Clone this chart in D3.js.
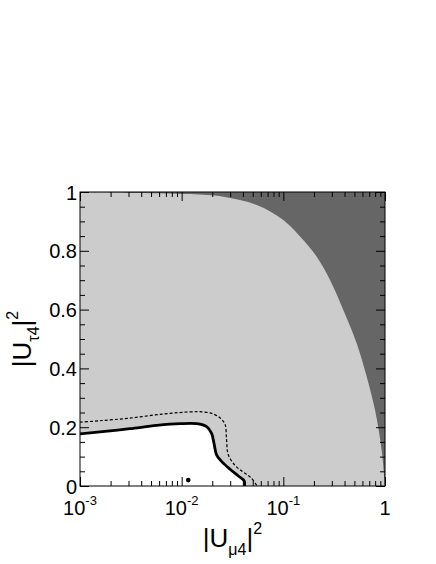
<!DOCTYPE html>
<html><head><meta charset="utf-8">
<script src="https://cdn.jsdelivr.net/npm/d3@7"></script>
<style>body{margin:0;background:#fff}svg{display:block}text{font-family:"Liberation Sans",Arial,Helvetica,sans-serif;fill:#000}</style>
</head><body><svg id="c" width="436" height="564"></svg>
<script>
// ---- data ----
const xMajorTicks = [0.001, 0.01, 0.1, 1];
const xTickBase = ["10", "10", "10", "1"];
const xTickExp = ["-3", "-2", "-1", ""];
const yMajorTicks = [0, 0.2, 0.4, 0.6, 0.8, 1];
const yTickLabels = ["0", "0.2", "0.4", "0.6", "0.8", "1"];

// unitarity boundary (upper edge of light-grey region)
const boundaryX = [0.001, 0.003, 0.0121, 0.0257, 0.0547, 0.1, 0.157, 0.213, 0.288, 0.389, 0.527, 0.661, 0.797, 0.927, 1];
const boundaryY = [0.999, 0.997, 0.993, 0.984, 0.956, 0.905, 0.837, 0.780, 0.701, 0.599, 0.485, 0.372, 0.259, 0.122, 0];

// solid contour
const solidX = [0.001, 0.00157, 0.0031, 0.00568, 0.00963, 0.0141, 0.0176, 0.0197, 0.0208, 0.0221, 0.0248, 0.0299, 0.0361, 0.0413, 0.0414];
const solidY = [0.177, 0.184, 0.195, 0.206, 0.212, 0.212, 0.202, 0.179, 0.145, 0.105, 0.083, 0.057, 0.034, 0.017, 0];

// dashed contour
const dashedX = [0.001, 0.00157, 0.0031, 0.0066, 0.0121, 0.0163, 0.0205, 0.0238, 0.0267, 0.0276, 0.0287, 0.0335, 0.0401, 0.0481, 0.0551];
const dashedY = [0.217, 0.222, 0.231, 0.245, 0.252, 0.252, 0.245, 0.232, 0.21, 0.16, 0.107, 0.07, 0.048, 0.028, 0];

// best-fit point
const pointX = [0.0116];
const pointY = [0.02];

// ---- drawing ----
const L = 80, R = 385, T = 192, B = 486;
const svg = d3.select("#c");
const x = d3.scaleLog().domain([1e-3, 1]).range([L, R]);
const y = d3.scaleLinear().domain([0, 1]).range([B, T]);

const zip = (a, b) => a.map((v, i) => [v, b[i]]);
const line = d3.line().x(d => x(d[0])).y(d => y(d[1])).curve(d3.curveCatmullRom.alpha(0.5));

svg.append("defs").append("clipPath").attr("id", "clip")
  .append("rect").attr("x", L).attr("y", T).attr("width", R - L).attr("height", B - T);
const g = svg.append("g").attr("clip-path", "url(#clip)");

// light grey background of plot
g.append("rect").attr("x", L).attr("y", T).attr("width", R - L).attr("height", B - T).attr("fill", "#cccccc");

// dark region above boundary
const bPts = zip(boundaryX, boundaryY);
const bPath = line(bPts);
g.append("path")
  .attr("d", bPath + `L${x(1)},${y(1)}L${x(0.001)},${y(1)}Z`)
  .attr("fill", "#666666");

// white region below solid contour
const sPts = zip(solidX, solidY);
g.append("path")
  .attr("d", line(sPts) + `L${x(0.001)},${y(0)}Z`)
  .attr("fill", "#ffffff");

// dashed contour
g.append("path").attr("d", line(zip(dashedX, dashedY)))
  .attr("fill", "none").attr("stroke", "#000").attr("stroke-width", 1.2)
  .attr("stroke-dasharray", "3,2");

// solid contour
g.append("path").attr("d", line(sPts))
  .attr("fill", "none").attr("stroke", "#000").attr("stroke-width", 2.8);

// point
g.selectAll("circle.pt").data(zip(pointX, pointY)).enter().append("circle")
  .attr("cx", d => x(d[0])).attr("cy", d => y(d[1])).attr("r", 2.3).attr("fill", "#000");

// ---- axes (ticks inward on all four sides) ----
const xMinor = [];
for (let e = -3; e < 0; e++) for (let k = 2; k <= 9; k++) xMinor.push(k * Math.pow(10, e));
const yMinor = d3.range(0, 1.0001, 0.05).filter(v => Math.abs(v * 5 - Math.round(v * 5)) > 1e-6);

function styleAxis(sel) {
  sel.select(".domain").remove();
  sel.selectAll(".tick line").attr("stroke", "#000").attr("stroke-width", 1);
  sel.selectAll(".tick text").remove();
}
svg.append("g").attr("transform", `translate(0,${B})`).call(d3.axisBottom(x).tickValues(xMajorTicks).tickSize(-9).tickFormat("")).call(styleAxis);
svg.append("g").attr("transform", `translate(0,${B})`).call(d3.axisBottom(x).tickValues(xMinor).tickSize(-5).tickFormat("")).call(styleAxis);
svg.append("g").attr("transform", `translate(0,${T})`).call(d3.axisTop(x).tickValues(xMajorTicks).tickSize(-9).tickFormat("")).call(styleAxis);
svg.append("g").attr("transform", `translate(0,${T})`).call(d3.axisTop(x).tickValues(xMinor).tickSize(-5).tickFormat("")).call(styleAxis);
svg.append("g").attr("transform", `translate(${L},0)`).call(d3.axisLeft(y).tickValues(yMajorTicks).tickSize(-9).tickFormat("")).call(styleAxis);
svg.append("g").attr("transform", `translate(${L},0)`).call(d3.axisLeft(y).tickValues(yMinor).tickSize(-5).tickFormat("")).call(styleAxis);
svg.append("g").attr("transform", `translate(${R},0)`).call(d3.axisRight(y).tickValues(yMajorTicks).tickSize(-9).tickFormat("")).call(styleAxis);
svg.append("g").attr("transform", `translate(${R},0)`).call(d3.axisRight(y).tickValues(yMinor).tickSize(-5).tickFormat("")).call(styleAxis);

// frame
svg.append("rect").attr("x", L).attr("y", T).attr("width", R - L).attr("height", B - T)
  .attr("fill", "none").attr("stroke", "#000").attr("stroke-width", 1);

// y tick labels
svg.selectAll("text.yl").data(yMajorTicks).enter().append("text")
  .attr("x", L - 3).attr("y", d => y(d) + 7.5).attr("text-anchor", "end")
  .attr("font-size", 20).text((d, i) => yTickLabels[i]);

// x tick labels
xMajorTicks.forEach((v, i) => {
  const t = svg.append("text").attr("x", x(v)).attr("y", 515).attr("text-anchor", "middle").attr("font-size", 20);
  t.append("tspan").text(xTickBase[i]);
  if (xTickExp[i]) t.append("tspan").attr("font-size", 13).attr("dy", -10).text(xTickExp[i]);
});

// axis titles
const xt = svg.append("text").attr("x", (L + R) / 2).attr("y", 547).attr("text-anchor", "middle").attr("font-size", 26);
xt.append("tspan").text("|U");
xt.append("tspan").attr("font-size", 16).attr("dy", 8).text("μ4");
xt.append("tspan").attr("dy", -8).text("|");
xt.append("tspan").attr("font-size", 16).attr("dy", -13).text("2");

const yt = svg.append("text").attr("transform", `translate(31,${(T + B) / 2}) rotate(-90)`)
  .attr("text-anchor", "middle").attr("font-size", 26);
yt.append("tspan").text("|U");
yt.append("tspan").attr("font-size", 16).attr("dy", 8).text("τ4");
yt.append("tspan").attr("dy", -8).text("|");
yt.append("tspan").attr("font-size", 16).attr("dy", -13).text("2");
</script></body></html>
